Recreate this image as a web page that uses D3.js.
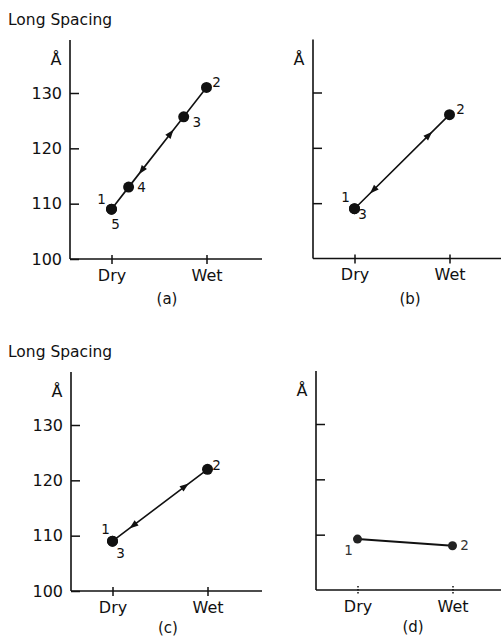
<!DOCTYPE html>
<html>
<head>
<meta charset="utf-8">
<script src="https://cdn.jsdelivr.net/npm/d3@7"></script>
<style>
  body { margin: 0; background: #fff; }
  svg { display: block; font-family: "DejaVu Sans", sans-serif; }
  .axis path { display: none; }
  .axis line { stroke: #111; stroke-width: 1.5; }
  .axis text { font-size: 16px; fill: #111; font-family: "DejaVu Sans", sans-serif; }
</style>
</head>
<body>
<script>
  // hydration states and spacing ticks
  var categories = ['Dry', 'Wet'];
  var yTicks = [100, 110, 120, 130];

  // x = 0 dry ... 1 wet, y = long spacing (Å)
  var aHydration = [0, 1, 0.76, 0.18, 0];
  var aSpacing = [109, 131, 125.7, 113, 109];
  var aLabels = ['1', '2', '3', '4', '5'];

  var bHydration = [0, 1, 0];
  var bSpacing = [109, 126, 109];
  var bLabels = ['1', '2', '3'];

  var cHydration = [0, 1, 0];
  var cSpacing = [109, 122, 109];
  var cLabels = ['1', '2', '3'];

  var dHydration = [0, 1];
  var dSpacing = [109.2, 108];
  var dLabels = ['1', '2'];

  var panels = [
    { id: '(a)', x: 70, y: 259, right: 262, hyd: aHydration, sp: aSpacing, lab: aLabels,
      labelOff: [[-10, -10], [10, -5], [13, 5], [13, 0], [4, 15]],
      arrows: [[0.62, 1], [0.32, -1]], tickText: true, title: true, subY: 45 },
    { id: '(b)', x: 313, y: 258.5, right: 501, hyd: bHydration, sp: bSpacing, lab: bLabels,
      labelOff: [[-9, -12], [11, -6], [8, 5]],
      arrows: [[0.78, 1], [0.2, -1]], tickText: false, title: false, subY: 45 },
    { id: '(c)', x: 71, y: 591, right: 262, hyd: cHydration, sp: cSpacing, lab: cLabels,
      labelOff: [[-7, -12], [9, -4], [8, 12]],
      arrows: [[0.76, 1], [0.22, -1]], tickText: true, title: true, subY: 42 },
    { id: '(d)', x: 316, y: 590, right: 501, hyd: dHydration, sp: dSpacing, lab: dLabels,
      labelOff: [[-9, 11], [12, -1]],
      arrows: [], tickText: false, title: false, faint: true, subY: 42 }
  ];

  var svg = d3.select('body').append('svg').attr('width', 501).attr('height', 637);

  panels.forEach(function(p) {
    var g = svg.append('g').attr('transform', 'translate(' + p.x + ',' + p.y + ')');
    var x = d3.scaleLinear().domain([0, 1]).range([41.5, 136.5]);
    var y = d3.scaleLinear().domain([100, 130]).range([0, -166]);

    // axis lines
    g.append('line').attr('x1', 0).attr('x2', 0).attr('y1', 0).attr('y2', y(139.6))
      .attr('stroke', '#111').attr('stroke-width', 1.6);
    g.append('line').attr('x1', 0).attr('x2', p.right - p.x).attr('y1', 0).attr('y2', 0)
      .attr('stroke', '#111').attr('stroke-width', 1.6);

    var yAxis = d3.axisLeft(y).tickValues(p.tickText ? yTicks : yTicks.slice(1))
      .tickSizeInner(-9).tickSizeOuter(0).tickPadding(8)
      .tickFormat(p.tickText ? d3.format('d') : '');
    g.append('g').attr('class', 'axis').call(yAxis);

    var xAxis = d3.axisBottom(x).tickValues([0, 1]).tickSizeInner(5).tickSizeOuter(0).tickPadding(5.6)
      .tickFormat(function(d) { return categories[d]; });
    var xg = g.append('g').attr('class', 'axis').call(xAxis);
    xg.selectAll('.tick line').attr('y1', -4);
    if (p.faint) {
      xg.selectAll('.tick line').attr('stroke', '#999').attr('stroke-dasharray', '1.5,1.5').attr('stroke-width', 1);
    }

    // Å unit
    g.append('text').attr('x', -14).attr('y', -194).attr('text-anchor', 'middle')
      .attr('font-size', 16).attr('fill', '#111').text('Å');

    // panel label
    g.append('text').attr('x', (x(0) + x(1)) / 2 + 8).attr('y', p.subY).attr('text-anchor', 'middle')
      .attr('font-size', 15).attr('fill', '#111').text(p.id);

    if (p.title) {
      g.append('text').attr('x', 8 - p.x).attr('y', -234).attr('font-size', 15.5)
        .attr('fill', '#111').text('Long Spacing');
    }

    var pts = p.hyd.map(function(h, i) { return { h: h, s: p.sp[i], lab: p.lab[i], off: p.labelOff[i] }; });

    g.append('path').datum(pts)
      .attr('d', d3.line().x(function(d) { return x(d.h); }).y(function(d) { return y(d.s); }))
      .attr('fill', 'none').attr('stroke', '#111').attr('stroke-width', p.faint ? 2 : 1.6);

    // direction arrows along the dry-wet line
    var x0 = x(p.hyd[0]), y0 = y(p.sp[0]), x1 = x(p.hyd[1]), y1 = y(p.sp[1]);
    var ang = Math.atan2(y1 - y0, x1 - x0) * 180 / Math.PI;
    p.arrows.forEach(function(a) {
      var ax = x0 + (x1 - x0) * a[0], ay = y0 + (y1 - y0) * a[0];
      g.append('path').attr('d', 'M5,0L-4,-3.3L-4,3.3Z')
        .attr('transform', 'translate(' + ax + ',' + ay + ') rotate(' + (a[1] > 0 ? ang : ang + 180) + ')')
        .attr('fill', '#111');
    });

    g.selectAll('circle.pt').data(pts).enter().append('circle').attr('class', 'pt')
      .attr('cx', function(d) { return x(d.h); }).attr('cy', function(d) { return y(d.s); })
      .attr('r', p.faint ? 4.5 : 5.5).attr('fill', p.faint ? '#222' : '#111');

    g.selectAll('text.lab').data(pts).enter().append('text').attr('class', 'lab')
      .attr('x', function(d) { return x(d.h) + d.off[0]; })
      .attr('y', function(d) { return y(d.s) + d.off[1]; })
      .attr('text-anchor', 'middle').attr('dominant-baseline', 'central')
      .attr('font-size', 13.5).attr('fill', p.faint ? '#333' : '#111')
      .text(function(d) { return d.lab; });
  });
</script>
</body>
</html>
